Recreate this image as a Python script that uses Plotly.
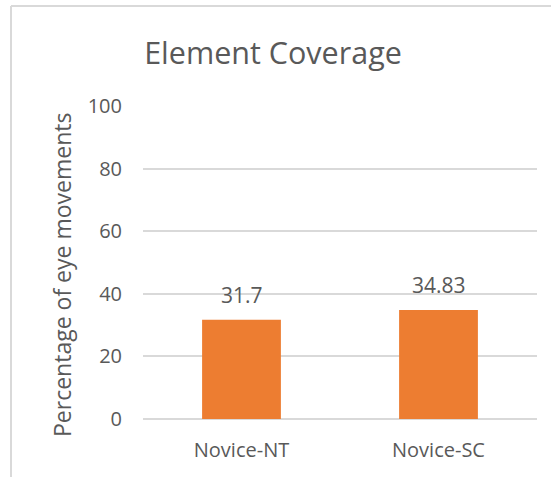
import plotly.graph_objects as go

# Eye-movement coverage of page elements by group
groups = ["Novice-NT", "Novice-SC"]
coverage = [31.7, 34.83]
coverage_text = ["31.7", "34.83"]
y_ticks = [0, 20, 40, 60, 80, 100]

FONT = "Open Sans"
TEXT_GREY = "#595959"
GRID_GREY = "#D9D9D9"
BAR_ORANGE = "#ED7D31"

W, H = 551, 477
ML, MR, MT, MB = 143, 14, 106, 58
PW, PH = W - ML - MR, H - MT - MB

fig = go.Figure(
    go.Bar(
        x=groups,
        y=coverage,
        marker=dict(color=BAR_ORANGE, line=dict(width=0)),
        hoverinfo="x+y",
    )
)

# value labels above each bar
for g, v, t in zip(groups, coverage, coverage_text):
    fig.add_annotation(
        x=g, y=v, text=t, showarrow=False,
        xanchor="center", yanchor="bottom", yshift=9,
        font=dict(family=FONT, size=21, color=TEXT_GREY),
    )

# vertical axis title
fig.add_annotation(
    text="Percentage of eye movements",
    xref="paper", yref="paper",
    x=(62 - ML) / PW, y=(H - MB - 275) / PH,
    xanchor="center", yanchor="middle",
    textangle=-90, showarrow=False,
    font=dict(family=FONT, size=23, color=TEXT_GREY),
)

fig.update_layout(
    width=W,
    height=H,
    margin=dict(l=ML, r=MR, t=MT, b=MB),
    paper_bgcolor="white",
    plot_bgcolor="white",
    bargap=0.6,
    showlegend=False,
    font=dict(family=FONT, color=TEXT_GREY),
    title=dict(
        text="Element Coverage",
        font=dict(family=FONT, size=30.5, color=TEXT_GREY),
        x=273 / W,
        xanchor="center",
        xref="container",
        y=1 - 53 / H,
        yanchor="middle",
        yref="container",
    ),
    xaxis=dict(
        showgrid=False,
        showline=False,
        zeroline=False,
        ticks="",
        tickfont=dict(family=FONT, size=20, color=TEXT_GREY),
        ticklabelstandoff=17,
    ),
    yaxis=dict(
        range=[0, 100],
        tickvals=y_ticks,
        showgrid=True,
        gridcolor=GRID_GREY,
        gridwidth=1.5,
        zeroline=True,
        zerolinecolor=GRID_GREY,
        zerolinewidth=1.5,
        showline=False,
        ticks="",
        tickfont=dict(family=FONT, size=20, color=TEXT_GREY),
        ticklabelstandoff=20,
        automargin=False,
    ),
    shapes=[
        # chart-area frame: left and top edges
        dict(type="line", xref="paper", yref="paper",
             x0=(11 - ML) / PW, x1=(11 - ML) / PW,
             y0=-MB / PH, y1=1 + 100 / PH,
             line=dict(color=GRID_GREY, width=2)),
        dict(type="line", xref="paper", yref="paper",
             x0=(11 - ML) / PW, x1=1 + MR / PW,
             y0=1 + 100 / PH, y1=1 + 100 / PH,
             line=dict(color=GRID_GREY, width=2)),
    ],
)

fig.write_html("out.html")
